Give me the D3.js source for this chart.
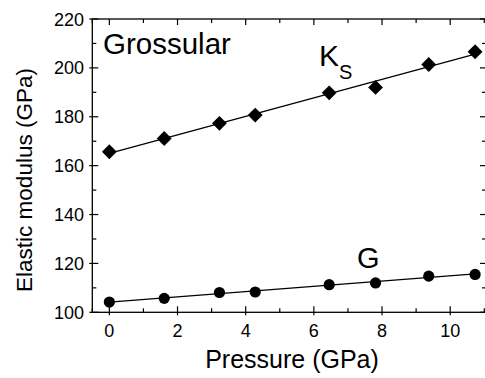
<!DOCTYPE html>
<html>
<head>
<meta charset="utf-8">
<script src="https://cdn.jsdelivr.net/npm/d3@7"></script>
<style>
  html, body { margin: 0; padding: 0; background: #fff; }
  svg { display: block; font-family: "Liberation Sans", Arial, sans-serif; }
</style>
</head>
<body>
<svg id="chart" width="485" height="378"></svg>
<script>
// Pressure (GPa) at each measurement
const pressure = [0, 1.61, 3.23, 4.28, 6.45, 7.81, 9.37, 10.73];
// Adiabatic bulk modulus Ks (GPa)
const bulkKs = [165.7, 171.1, 177.3, 180.7, 189.8, 192.0, 201.4, 206.6];
// Shear modulus G (GPa)
const shearG = [104.2, 105.7, 108.1, 108.3, 111.3, 112.0, 114.8, 115.5];

const xTicks = [0, 2, 4, 6, 8, 10];
const xMinor = [-0.5, 1, 3, 5, 7, 9, 11];
const yTicks = [100, 120, 140, 160, 180, 200, 220];
const yMinor = [110, 130, 150, 170, 190, 210];

const svg = d3.select("#chart");
const plotL = 92.3, plotR = 486, plotT = 19, plotB = 312.3;

const x = d3.scaleLinear().domain([-0.5, 11.05]).range([plotL, plotR]);
const y = d3.scaleLinear().domain([100, 220]).range([plotB, plotT]);

// least-squares line through a series
function fit(xs, ys) {
  const mx = d3.mean(xs), my = d3.mean(ys);
  let sxy = 0, sxx = 0;
  xs.forEach((v, i) => { sxy += (v - mx) * (ys[i] - my); sxx += (v - mx) * (v - mx); });
  const b = sxy / sxx, a = my - b * mx;
  const x0 = d3.min(xs), x1 = d3.max(xs);
  return [[x0, a + b * x0], [x1, a + b * x1]];
}

const g = svg.append("g");

// frame
g.append("rect")
  .attr("x", plotL).attr("y", plotT)
  .attr("width", plotR - plotL).attr("height", plotB - plotT)
  .attr("fill", "none").attr("stroke", "#000").attr("stroke-width", 1.3);

// ticks on all four sides, pointing inward; majors on left/bottom cross the axis
const tickG = g.append("g").attr("stroke", "#000").attr("stroke-width", 1.2);
xTicks.forEach(v => {
  tickG.append("line").attr("x1", x(v)).attr("x2", x(v)).attr("y1", plotB + 3).attr("y2", plotB - 6);
  tickG.append("line").attr("x1", x(v)).attr("x2", x(v)).attr("y1", plotT).attr("y2", plotT + 6);
});
xMinor.forEach(v => {
  tickG.append("line").attr("x1", x(v)).attr("x2", x(v)).attr("y1", plotB).attr("y2", plotB - 4);
  tickG.append("line").attr("x1", x(v)).attr("x2", x(v)).attr("y1", plotT).attr("y2", plotT + 4);
});
yTicks.forEach(v => {
  tickG.append("line").attr("y1", y(v)).attr("y2", y(v)).attr("x1", plotL - 3).attr("x2", plotL + 6);
  tickG.append("line").attr("y1", y(v)).attr("y2", y(v)).attr("x1", plotR).attr("x2", plotR - 6);
});
yMinor.forEach(v => {
  tickG.append("line").attr("y1", y(v)).attr("y2", y(v)).attr("x1", plotL).attr("x2", plotL + 4);
  tickG.append("line").attr("y1", y(v)).attr("y2", y(v)).attr("x1", plotR).attr("x2", plotR - 4);
});

// tick labels
g.append("g").selectAll("text").data(xTicks).join("text")
  .attr("x", d => x(d)).attr("y", 337)
  .attr("text-anchor", "middle").attr("font-size", 18).text(d => d);
g.append("g").selectAll("text").data(yTicks).join("text")
  .attr("x", 84).attr("y", d => y(d) + 6.5)
  .attr("text-anchor", "end").attr("font-size", 18).text(d => d);

// axis titles
svg.append("text").attr("x", 292).attr("y", 367.5)
  .attr("text-anchor", "middle").attr("font-size", 25).text("Pressure (GPa)");
svg.append("text")
  .attr("transform", "translate(32," + 180 + ") rotate(-90)")
  .attr("text-anchor", "middle").attr("font-size", 22.5).text("Elastic modulus (GPa)");

// fitted lines
const line = d3.line().x(d => x(d[0])).y(d => y(d[1]));
[bulkKs, shearG].forEach(s => {
  g.append("path").attr("d", line(fit(pressure, s)))
    .attr("fill", "none").attr("stroke", "#000").attr("stroke-width", 1.3);
});

// Ks markers: diamonds
g.append("g").selectAll("path").data(pressure).join("path")
  .attr("d", d3.symbol(d3.symbolSquare, 110))
  .attr("transform", (d, i) => `translate(${x(d)},${y(bulkKs[i])}) rotate(45)`)
  .attr("fill", "#000");

// G markers: circles
g.append("g").selectAll("circle").data(pressure).join("circle")
  .attr("cx", d => x(d)).attr("cy", (d, i) => y(shearG[i]))
  .attr("r", 5.6).attr("fill", "#000");

// labels
svg.append("text").attr("x", 103).attr("y", 53.5).attr("font-size", 29.5).text("Grossular");
const ks = svg.append("text").attr("x", 319).attr("y", 66).attr("font-size", 30);
ks.append("tspan").text("K");
ks.append("tspan").attr("dy", 13).attr("font-size", 20).text("S");
svg.append("text").attr("x", 357).attr("y", 268).attr("font-size", 29).text("G");
</script>
</body>
</html>
